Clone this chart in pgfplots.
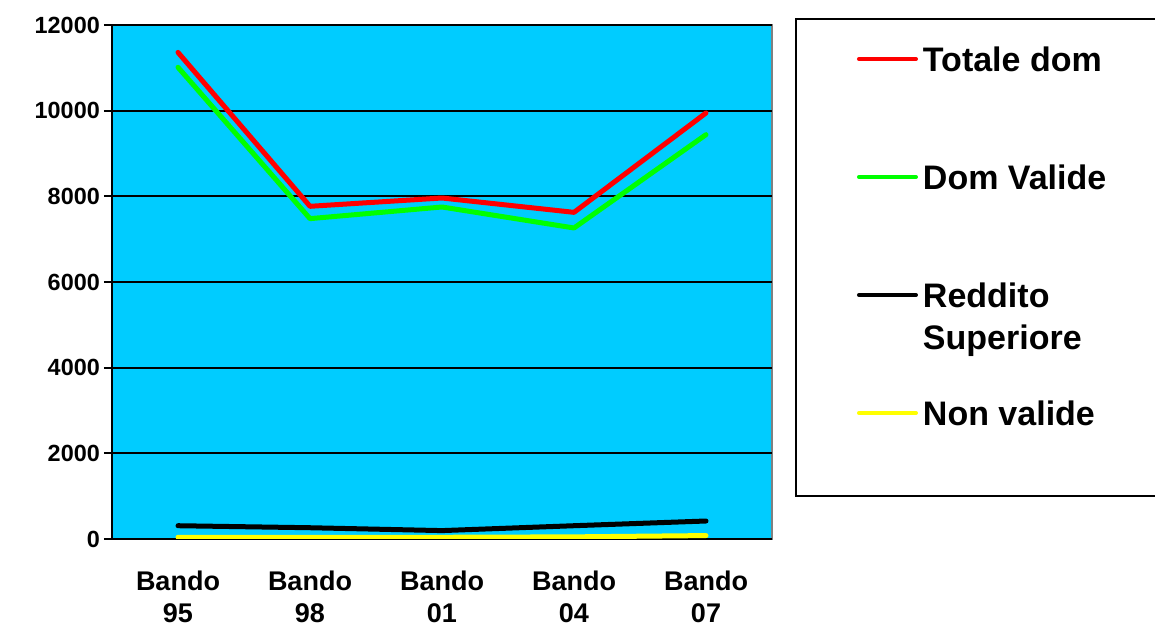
\documentclass[border=0pt]{standalone}
\usepackage{pgfplots}
\pgfplotsset{compat=1.18}
\usepackage{fontspec}
\setmainfont{Liberation Sans}
\definecolor{bgcyan}{RGB}{0,204,255}
\definecolor{lred}{RGB}{255,0,0}
\definecolor{lgreen}{RGB}{0,255,0}
\definecolor{lyellow}{RGB}{255,255,0}
\begin{document}
\begin{tikzpicture}
\useasboundingbox (-112pt,-89pt) rectangle (1043pt,539pt);
\begin{axis}[
  at={(0pt,0pt)}, anchor=south west,
  scale only axis, width=660pt, height=514pt,
  xmin=-0.5, xmax=4.5, ymin=0, ymax=12000,
  axis x line*=bottom, axis y line*=left,
  x axis line style={black, line width=1.2pt},
  y axis line style={black, line width=2pt},
  axis background/.style={fill=bgcyan, draw=gray, line width=1.5pt},
  ytick={0,2000,...,12000},
  scaled y ticks=false,
  ymajorgrids, grid style={black, line width=2pt},
  xtick={0,1,2,3,4},
  xticklabels={{Bando\\95},{Bando\\98},{Bando\\01},{Bando\\04},{Bando\\07}},
  minor xtick={-0.5,0.5,1.5,2.5,3.5,4.5},
  xtick style={draw=none},
  minor tick length=9pt, major tick length=8pt,
  tick align=outside,
  ytick style={black, line width=2pt},
  minor x tick style={black, line width=1.5pt},
  /pgf/number format/assume math mode=true,
  /pgf/number format/1000 sep={},
  yticklabel style={font=\fontsize{23.4}{28}\selectfont\bfseries, inner sep=0pt, xshift=-4pt},
  xticklabel style={font=\fontsize{27}{32}\selectfont\bfseries, align=center, inner sep=0pt, yshift=-24pt},
  every axis plot/.append style={line width=5pt, line cap=round, line join=round},
  legend image code/.code={
    \path[draw=none,fill=none] (0pt,0pt) rectangle (124.5pt,0pt);
    \draw[#1, line width=4pt, line cap=round] (60.5pt,12pt) -- (117.5pt,12pt);
  },
  legend style={
    at={(rel axis cs:1.0348,1.0136)}, anchor=north west,
    draw=black, line width=2pt, inner sep=2.5pt,
    column sep=0pt,
    nodes={inner sep=0pt, anchor=base, text height=49.5pt, text depth=68.5pt,
      font=\fontsize{34}{42}\selectfont\bfseries},
  },
  legend cell align=left,
]
\addplot[lred] coordinates {(0,11360) (1,7767) (2,7961) (3,7626) (4,9946)};
\addlegendentry{\makebox[250pt][l]{Totale dom}}
\addplot[lgreen] coordinates {(0,11012) (1,7479) (2,7751) (3,7261) (4,9440)};
\addlegendentry{\makebox[250pt][l]{Dom Valide}}
\addplot[black] coordinates {(0,310) (1,263) (2,196) (3,310) (4,420)};
\addlegendentry{\makebox[250pt][l]{\smash{\begin{tabular}[t]{@{}l@{}}Reddito\\Superiore\end{tabular}}}}
\addplot[lyellow] coordinates {(0,40) (1,40) (2,40) (3,50) (4,80)};
\addlegendentry{\makebox[250pt][l]{Non valide}}
\end{axis}
\end{tikzpicture}
\end{document}
